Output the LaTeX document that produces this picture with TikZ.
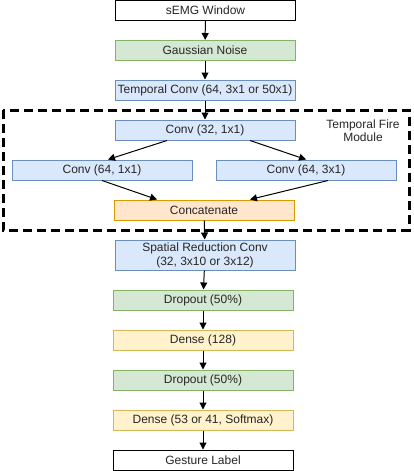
\documentclass[tikz,border=0pt]{standalone}
\usepackage{fontspec}
\setmainfont{Liberation Sans}
\usetikzlibrary{arrows.meta}

\definecolor{blueFill}{HTML}{DAE8FC}
\definecolor{blueLine}{HTML}{6C8EBF}
\definecolor{greenFill}{HTML}{D5E8D4}
\definecolor{greenLine}{HTML}{82B366}
\definecolor{yellowFill}{HTML}{FFF2CC}
\definecolor{yellowLine}{HTML}{D6B656}
\definecolor{orangeFill}{HTML}{FFE6CC}
\definecolor{orangeLine}{HTML}{D79B00}

\tikzset{
  layer/.style={draw, line width=1pt, minimum width=180pt, minimum height=20pt,
    inner sep=0pt, align=center, font=\fontsize{12}{14}\selectfont, text=black!85},
  plain/.style={layer, fill=white, draw=black},
  conv/.style={layer, fill=blueFill, draw=blueLine},
  reg/.style={layer, fill=greenFill, draw=greenLine},
  dense/.style={layer, fill=yellowFill, draw=yellowLine},
  merge/.style={layer, fill=orangeFill, draw=orangeLine},
  flow/.style={-{Triangle[length=7pt,width=7pt]}, line width=1pt},
}

\begin{document}
\begin{tikzpicture}[x=1pt,y=-1pt]
    \useasboundingbox (0,0) rectangle (413,471);
    % module frame
    \draw [line width=3pt, dash pattern=on 9pt off 5pt] (3,110) rectangle (409,230);
    \node (fire) at (363,130.5) [align=center, text=black!85, font=\fontsize{12}{13}\selectfont] {Temporal Fire\\Module};
    % layers
    \node [plain] (input) at (205.5,10.5) {sEMG Window};
    \node [reg] (noise) at (205,50.5) {Gaussian Noise};
    \node [conv] (tconv) at (205,90) {Temporal Conv (64, 3x1 or 50x1)};
    \node [conv] (squeeze) at (205,130) {Conv (32, 1x1)};
    \node [conv] (expa) at (102,170) {Conv (64, 1x1)};
    \node [conv] (expb) at (306,170) {Conv (64, 3x1)};
    \node [merge] (concat) at (204,210) {Concatenate};
    \node [conv, minimum height=30pt] (sconv) at (205,255) {Spatial Reduction Conv\\(32, 3x10 or 3x12)};
    \node [reg] (drop1) at (203,300) {Dropout (50\%)};
    \node [dense] (dense1) at (203,340) {Dense (128)};
    \node [reg] (drop2) at (203,380) {Dropout (50\%)};
    \node [dense] (dense2) at (203,420) {Dense (53 or 41, Softmax)};
    \node [plain] (output) at (203,460) {Gesture Label};
    % connections
    \draw [flow] (input) -- (noise);
    \draw [flow] (noise) -- (tconv);
    \draw [flow] (tconv) -- (squeeze);
    \draw [flow] ([xshift=-38pt]squeeze.south) -- ([xshift=6pt]expa.north);
    \draw [flow] ([xshift=45pt]squeeze.south) -- (expb.north);
    \draw [flow] (expa.south) -- ([xshift=-47pt]concat.north);
    \draw [flow] ([xshift=22pt]expb.south) -- ([xshift=46pt]concat.north);
    \draw [flow] (concat) -- (sconv);
    \draw [flow] (sconv) -- (drop1);
    \draw [flow] (drop1) -- (dense1);
    \draw [flow] (dense1) -- (drop2);
    \draw [flow] (drop2) -- (dense2);
    \draw [flow] (dense2) -- (output);
\end{tikzpicture}
\end{document}
